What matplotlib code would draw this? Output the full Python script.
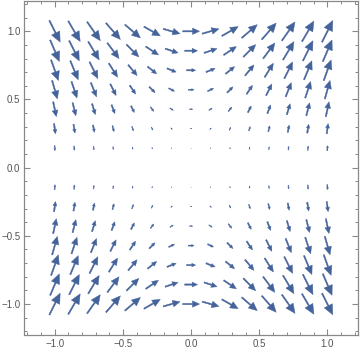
import numpy as np
import matplotlib
matplotlib.use("Agg")
import matplotlib.pyplot as plt
from matplotlib.ticker import MultipleLocator

# Grid of sample points (15 x 15, as in the reference)
x_grid = [-1.0, -6/7, -5/7, -4/7, -3/7, -2/7, -1/7, 0.0, 1/7, 2/7, 3/7, 4/7, 5/7, 6/7, 1.0]
y_grid = [-1.0, -6/7, -5/7, -4/7, -3/7, -2/7, -1/7, 0.0, 1/7, 2/7, 3/7, 4/7, 5/7, 6/7, 1.0]

# Vector field: (u, v) = (y^2, 2*x*y)
def field(x, y):
    return y * y, 2 * x * y

x_ticks = [-1.0, -0.5, 0.0, 0.5, 1.0]
y_ticks = [-1.0, -0.5, 0.0, 0.5, 1.0]

arrow_color = "#45639B"
frame_color = "#888888"
label_color = "#555555"

plt.rcParams["font.family"] = ["Liberation Sans", "DejaVu Sans"]

fig = plt.figure(figsize=(3.6, 3.52), dpi=100)
ax = fig.add_axes([24.5 / 360, 17 / 352, 333.2 / 360, 334 / 352])

xlim = (-1.222, 1.222)
ylim = (-1.227, 1.222)
px_per_unit = 333.2 / (xlim[1] - xlim[0])

def arrow_len(mag):
    # saturating vector scale (in pixels), converted to data units
    p = 18.0 * mag
    p = p / (1 + (p / 25.0) ** 4) ** 0.25
    return p / px_per_unit

shaft = 1.3 / px_per_unit
for xv in x_grid:
    for yv in y_grid:
        u, v = field(xv, yv)
        mag = np.hypot(u, v)
        if mag < 1e-9:
            continue
        L = arrow_len(mag)
        dx, dy = u / mag * L, v / mag * L
        hl = 0.42 * L
        hw = 0.38 * L
        ax.arrow(xv - dx / 2, yv - dy / 2, dx, dy,
                 width=min(shaft, hw * 0.45), head_width=hw, head_length=hl,
                 length_includes_head=True, color=arrow_color, lw=0.3,
                 joinstyle="miter")

ax.set_xlim(*xlim)
ax.set_ylim(*ylim)
ax.set_xticks(x_ticks)
ax.set_yticks(y_ticks)
ax.set_xticklabels([f"{t:.1f}".replace("-", "\u2212") for t in x_ticks])
ax.set_yticklabels([f"{t:.1f}".replace("-", "\u2212") for t in y_ticks])
ax.xaxis.set_minor_locator(MultipleLocator(0.1))
ax.yaxis.set_minor_locator(MultipleLocator(0.1))
ax.tick_params(which="both", direction="in", top=True, right=True,
               color=frame_color, labelcolor=label_color, labelsize=7)
ax.tick_params(which="major", length=4.5, width=0.8, pad=3)
ax.tick_params(which="minor", length=2.5, width=0.7)
for s in ax.spines.values():
    s.set_color(frame_color)
    s.set_linewidth(0.9)

fig.savefig("out.png", dpi=100)
